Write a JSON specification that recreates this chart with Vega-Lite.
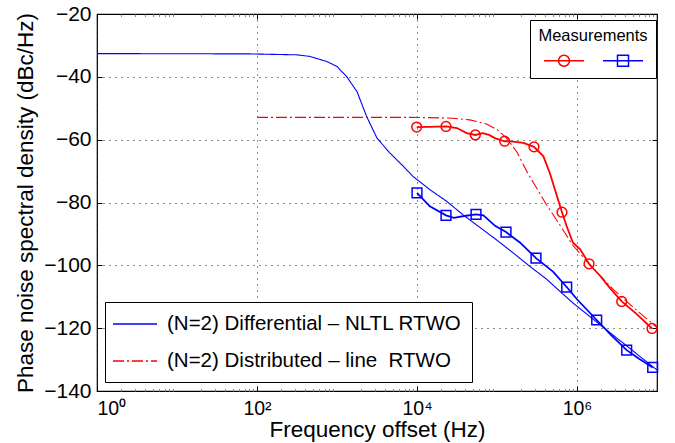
{
  "$schema": "https://vega.github.io/schema/vega-lite/v6.json",
  "width": 560,
  "height": 377,
  "autosize": {"type": "none"},
  "padding": {"left": 97, "top": 14, "right": 18, "bottom": 52},
  "background": "white",
  "config": {
    "view": {"stroke": "#000", "strokeWidth": 1.2},
    "font": "Liberation Sans",
    "axis": {"labelFont": "Liberation Sans", "titleFont": "Liberation Sans", "labelColor": "#000", "titleColor": "#000", "tickColor": "#000", "titleFontWeight": "normal"},
    "legend": {"labelFont": "Liberation Sans", "titleFont": "Liberation Sans", "labelColor": "#000", "titleColor": "#000"}
  },
  "datasets": {
    "model": [
      {"f": 1, "pn": -32.6, "series": "(N=2) Differential – NLTL RTWO"},
      {"f": 79.43, "pn": -32.7, "series": "(N=2) Differential – NLTL RTWO"},
      {"f": 316.2, "pn": -33.0, "series": "(N=2) Differential – NLTL RTWO"},
      {"f": 457.1, "pn": -33.5, "series": "(N=2) Differential – NLTL RTWO"},
      {"f": 741.3, "pn": -35.1, "series": "(N=2) Differential – NLTL RTWO"},
      {"f": 1000, "pn": -36.7, "series": "(N=2) Differential – NLTL RTWO"},
      {"f": 1318, "pn": -39.9, "series": "(N=2) Differential – NLTL RTWO"},
      {"f": 1778, "pn": -44.7, "series": "(N=2) Differential – NLTL RTWO"},
      {"f": 2344, "pn": -52.6, "series": "(N=2) Differential – NLTL RTWO"},
      {"f": 3162, "pn": -59.5, "series": "(N=2) Differential – NLTL RTWO"},
      {"f": 4571, "pn": -64.2, "series": "(N=2) Differential – NLTL RTWO"},
      {"f": 6761, "pn": -68.5, "series": "(N=2) Differential – NLTL RTWO"},
      {"f": 8913, "pn": -71.7, "series": "(N=2) Differential – NLTL RTWO"},
      {"f": 14454, "pn": -75.9, "series": "(N=2) Differential – NLTL RTWO"},
      {"f": 23442, "pn": -79.6, "series": "(N=2) Differential – NLTL RTWO"},
      {"f": 38019, "pn": -84.0, "series": "(N=2) Differential – NLTL RTWO"},
      {"f": 61660, "pn": -88.0, "series": "(N=2) Differential – NLTL RTWO"},
      {"f": 100000, "pn": -92.0, "series": "(N=2) Differential – NLTL RTWO"},
      {"f": 158489, "pn": -96.0, "series": "(N=2) Differential – NLTL RTWO"},
      {"f": 257040, "pn": -100.3, "series": "(N=2) Differential – NLTL RTWO"},
      {"f": 416869, "pn": -104.4, "series": "(N=2) Differential – NLTL RTWO"},
      {"f": 630957, "pn": -108.6, "series": "(N=2) Differential – NLTL RTWO"},
      {"f": 891251, "pn": -112.0, "series": "(N=2) Differential – NLTL RTWO"},
      {"f": 1584893, "pn": -117.1, "series": "(N=2) Differential – NLTL RTWO"},
      {"f": 2511886, "pn": -121.2, "series": "(N=2) Differential – NLTL RTWO"},
      {"f": 3981072, "pn": -125.2, "series": "(N=2) Differential – NLTL RTWO"},
      {"f": 6309573, "pn": -129.3, "series": "(N=2) Differential – NLTL RTWO"},
      {"f": 10000000, "pn": -133.3, "series": "(N=2) Differential – NLTL RTWO"},
      {"f": 100, "pn": -52.9, "series": "(N=2) Distributed – line \u00a0RTWO"},
      {"f": 7943, "pn": -52.9, "series": "(N=2) Distributed – line \u00a0RTWO"},
      {"f": 25119, "pn": -53.1, "series": "(N=2) Distributed – line \u00a0RTWO"},
      {"f": 45709, "pn": -53.7, "series": "(N=2) Distributed – line \u00a0RTWO"},
      {"f": 74131, "pn": -55.0, "series": "(N=2) Distributed – line \u00a0RTWO"},
      {"f": 100000, "pn": -56.8, "series": "(N=2) Distributed – line \u00a0RTWO"},
      {"f": 131826, "pn": -59.5, "series": "(N=2) Distributed – line \u00a0RTWO"},
      {"f": 177828, "pn": -64.0, "series": "(N=2) Distributed – line \u00a0RTWO"},
      {"f": 234423, "pn": -70.0, "series": "(N=2) Distributed – line \u00a0RTWO"},
      {"f": 281838, "pn": -73.5, "series": "(N=2) Distributed – line \u00a0RTWO"},
      {"f": 346737, "pn": -77.3, "series": "(N=2) Distributed – line \u00a0RTWO"},
      {"f": 416869, "pn": -80.8, "series": "(N=2) Distributed – line \u00a0RTWO"},
      {"f": 501187, "pn": -83.8, "series": "(N=2) Distributed – line \u00a0RTWO"},
      {"f": 616595, "pn": -87.3, "series": "(N=2) Distributed – line \u00a0RTWO"},
      {"f": 891251, "pn": -93.7, "series": "(N=2) Distributed – line \u00a0RTWO"},
      {"f": 1584893, "pn": -100.9, "series": "(N=2) Distributed – line \u00a0RTWO"},
      {"f": 2818383, "pn": -107.6, "series": "(N=2) Distributed – line \u00a0RTWO"},
      {"f": 5011872, "pn": -113.3, "series": "(N=2) Distributed – line \u00a0RTWO"},
      {"f": 10000000, "pn": -119.8, "series": "(N=2) Distributed – line \u00a0RTWO"}
    ],
    "meas": [
      {"f": 9908, "pn": -56.0, "dev": "red", "marker": true},
      {"f": 14125, "pn": -55.9, "dev": "red", "marker": false},
      {"f": 23041, "pn": -55.8, "dev": "red", "marker": true},
      {"f": 31623, "pn": -56.3, "dev": "red", "marker": false},
      {"f": 41687, "pn": -57.9, "dev": "red", "marker": false},
      {"f": 53580, "pn": -58.5, "dev": "red", "marker": true},
      {"f": 66069, "pn": -57.9, "dev": "red", "marker": false},
      {"f": 79433, "pn": -58.5, "dev": "red", "marker": false},
      {"f": 95499, "pn": -59.6, "dev": "red", "marker": false},
      {"f": 124738, "pn": -60.5, "dev": "red", "marker": true},
      {"f": 158489, "pn": -60.6, "dev": "red", "marker": false},
      {"f": 213796, "pn": -61.0, "dev": "red", "marker": false},
      {"f": 290068, "pn": -62.3, "dev": "red", "marker": true},
      {"f": 380189, "pn": -65.3, "dev": "red", "marker": false},
      {"f": 457088, "pn": -70.6, "dev": "red", "marker": false},
      {"f": 562341, "pn": -78.0, "dev": "red", "marker": false},
      {"f": 649382, "pn": -83.1, "dev": "red", "marker": true},
      {"f": 741310, "pn": -87.5, "dev": "red", "marker": false},
      {"f": 891251, "pn": -92.8, "dev": "red", "marker": false},
      {"f": 1096478, "pn": -94.9, "dev": "red", "marker": false},
      {"f": 1412538, "pn": -99.5, "dev": "red", "marker": true},
      {"f": 1949845, "pn": -103.4, "dev": "red", "marker": false},
      {"f": 2630268, "pn": -107.5, "dev": "red", "marker": false},
      {"f": 3622429, "pn": -111.5, "dev": "red", "marker": true},
      {"f": 5623413, "pn": -115.6, "dev": "red", "marker": false},
      {"f": 8659643, "pn": -120.1, "dev": "red", "marker": true},
      {"f": 10000, "pn": -76.9, "dev": "blue", "marker": true},
      {"f": 14454, "pn": -81.2, "dev": "blue", "marker": false},
      {"f": 23041, "pn": -84.1, "dev": "blue", "marker": true},
      {"f": 28840, "pn": -84.9, "dev": "blue", "marker": false},
      {"f": 38905, "pn": -84.3, "dev": "blue", "marker": false},
      {"f": 54639, "pn": -83.8, "dev": "blue", "marker": true},
      {"f": 67608, "pn": -84.1, "dev": "blue", "marker": false},
      {"f": 95499, "pn": -87.5, "dev": "blue", "marker": false},
      {"f": 129604, "pn": -89.4, "dev": "blue", "marker": true},
      {"f": 194984, "pn": -92.8, "dev": "blue", "marker": false},
      {"f": 307256, "pn": -97.7, "dev": "blue", "marker": true},
      {"f": 501187, "pn": -102.0, "dev": "blue", "marker": false},
      {"f": 743019, "pn": -106.9, "dev": "blue", "marker": true},
      {"f": 1000000, "pn": -110.8, "dev": "blue", "marker": false},
      {"f": 1761976, "pn": -117.4, "dev": "blue", "marker": true},
      {"f": 2691535, "pn": -122.3, "dev": "blue", "marker": false},
      {"f": 4178303, "pn": -127.0, "dev": "blue", "marker": true},
      {"f": 6025596, "pn": -129.8, "dev": "blue", "marker": false},
      {"f": 8830799, "pn": -132.5, "dev": "blue", "marker": true}
    ]
  },
  "resolve": {"axis": {"x": "independent", "y": "independent"}},
  "layer": [
    {
      "data": {"name": "model"},
      "mark": {"type": "line", "strokeWidth": 1.1, "clip": true},
      "encoding": {
        "x": {"field": "f", "type": "quantitative",
          "scale": {"type": "log", "domain": [1, 10000000], "nice": false},
          "axis": {"orient": "bottom", "values": [1, 100, 10000, 1000000],
            "labelExpr": "datum.value < 10 ? '10⁰' : datum.value < 1000 ? '10²' : datum.value < 100000 ? '10⁴' : '10⁶'",
            "grid": true, "gridDash": [1, 5], "gridColor": "#000", "gridWidth": 0.9,
            "tickSize": -5, "domain": false, "labelFontSize": 19.5, "labelPadding": 13, "labelBaseline": "top",
            "title": "Frequency offset (Hz)", "titleFontSize": 22.5, "titlePadding": 1}},
        "y": {"field": "pn", "type": "quantitative",
          "scale": {"domain": [-140, -20], "nice": false},
          "axis": {"orient": "left", "values": [-140, -120, -100, -80, -60, -40, -20],
            "grid": true, "gridDash": [1, 5], "gridColor": "#000", "gridWidth": 0.9,
            "tickSize": -5, "domain": false, "labelFontSize": 21, "labelPadding": 11,
            "title": "Phase noise spectral density (dBc/Hz)", "titleFontSize": 22.5, "titlePadding": 6}},
        "color": {"field": "series", "type": "nominal",
          "scale": {"domain": ["(N=2) Differential – NLTL RTWO", "(N=2) Distributed – line \u00a0RTWO"], "range": ["#0000ff", "#ff0000"]},
          "legend": {"orient": "none", "legendX": 8, "legendY": 288, "title": null, "symbolType": "M-2,0L2,0", "symbolSize": 484, "symbolOffset": 8, "symbolStrokeWidth": 1.3,
            "labelFontSize": 20.5, "labelOffset": 20, "strokeColor": "#000", "fillColor": "#fff", "padding": 10, "rowPadding": 14, "labelLimit": 400}},
        "strokeDash": {"field": "series", "type": "nominal",
          "scale": {"domain": ["(N=2) Differential – NLTL RTWO", "(N=2) Distributed – line \u00a0RTWO"], "range": [[1, 0], [11, 3, 2, 3]]},
          "legend": {"orient": "none", "legendX": 8, "legendY": 288, "title": null, "symbolType": "M-2,0L2,0", "symbolSize": 484, "symbolOffset": 8, "symbolStrokeWidth": 1.3,
            "labelFontSize": 20.5, "labelOffset": 20, "strokeColor": "#000", "fillColor": "#fff", "padding": 10, "rowPadding": 14, "labelLimit": 400}}
      }
    },
    {
      "data": {"name": "meas"},
      "transform": [{"filter": "datum.dev == 'red'"}],
      "mark": {"type": "line", "strokeWidth": 1.8, "color": "#ff0000"},
      "encoding": {
        "x": {"field": "f", "type": "quantitative",
          "axis": {"orient": "top", "values": [1, 100, 10000, 1000000], "labels": false, "grid": false, "tickSize": -5, "domain": false, "title": null}},
        "y": {"field": "pn", "type": "quantitative",
          "axis": {"orient": "right", "values": [-140, -120, -100, -80, -60, -40, -20], "labels": false, "grid": false, "tickSize": -5, "domain": false, "title": null}}
      }
    },
    {
      "data": {"name": "meas"},
      "transform": [{"filter": "datum.dev == 'blue'"}],
      "mark": {"type": "line", "strokeWidth": 1.8, "color": "#0000ff"},
      "encoding": {
        "x": {"field": "f", "type": "quantitative",
          "axis": {"orient": "bottom", "values": [2,3,4,5,6,7,8,9,20,30,40,50,60,70,80,90,200,300,400,500,600,700,800,900,2000,3000,4000,5000,6000,7000,8000,9000,20000,30000,40000,50000,60000,70000,80000,90000,200000,300000,400000,500000,600000,700000,800000,900000,2000000,3000000,4000000,5000000,6000000,7000000,8000000,9000000],
            "labels": false, "grid": false, "tickSize": -2.5, "tickColor": "#888", "domain": false, "title": null}},
        "y": {"field": "pn", "type": "quantitative", "axis": null}
      }
    },
    {
      "data": {"name": "meas"},
      "transform": [{"filter": "datum.dev == 'red' && datum.marker"}],
      "mark": {"type": "point", "shape": "circle", "filled": false, "size": 95, "strokeWidth": 1.5, "color": "#ff0000", "opacity": 1},
      "encoding": {
        "x": {"field": "f", "type": "quantitative",
          "axis": {"orient": "top", "values": [2,3,4,5,6,7,8,9,20,30,40,50,60,70,80,90,200,300,400,500,600,700,800,900,2000,3000,4000,5000,6000,7000,8000,9000,20000,30000,40000,50000,60000,70000,80000,90000,200000,300000,400000,500000,600000,700000,800000,900000,2000000,3000000,4000000,5000000,6000000,7000000,8000000,9000000],
            "labels": false, "grid": false, "tickSize": -2.5, "tickColor": "#888", "domain": false, "title": null}},
        "y": {"field": "pn", "type": "quantitative", "axis": null}
      }
    },
    {
      "data": {"name": "meas"},
      "transform": [{"filter": "datum.dev == 'blue' && datum.marker"}],
      "mark": {"type": "point", "shape": "square", "filled": false, "size": 95, "strokeWidth": 1.5, "color": "#0000ff", "opacity": 1},
      "encoding": {
        "x": {"field": "f", "type": "quantitative", "axis": null},
        "y": {"field": "pn", "type": "quantitative", "axis": null}
      }
    },
    {
      "data": {"name": "meas"},
      "transform": [{"filter": "datum.f < 0"}],
      "mark": {"type": "point", "filled": false, "strokeWidth": 1.5, "opacity": 1},
      "encoding": {
        "shape": {"field": "dev", "type": "nominal",
          "scale": {"domain": ["red", "blue"], "range": ["M-1,0L1,0M-0.275,0A0.275,0.275,0,1,1,0.275,0A0.275,0.275,0,1,1,-0.275,0Z", "M-1,0L1,0M-0.275,-0.275L0.275,-0.275L0.275,0.275L-0.275,0.275Z"]},
          "legend": {"orient": "none", "legendX": 433, "legendY": 6, "direction": "horizontal", "title": "Measurements", "titleFontSize": 16.5, "titleFontWeight": "normal", "titleAnchor": "middle", "titlePadding": -5,
            "labelExpr": "''", "labelOffset": 0, "symbolSize": 1600, "symbolOffset": 4, "symbolStrokeWidth": 1.5, "symbolFillColor": "transparent", "columnPadding": 11, "strokeColor": "#000", "fillColor": "#fff", "padding": 8, "symbolOpacity": 1}},
        "stroke": {"field": "dev", "type": "nominal",
          "scale": {"domain": ["red", "blue"], "range": ["#ff0000", "#0000ff"]},
          "legend": {"orient": "none", "legendX": 433, "legendY": 6, "direction": "horizontal", "title": "Measurements", "titleFontSize": 16.5, "titleFontWeight": "normal", "titleAnchor": "middle", "titlePadding": -5,
            "labelExpr": "''", "labelOffset": 0, "symbolSize": 1600, "symbolOffset": 4, "symbolStrokeWidth": 1.5, "symbolFillColor": "transparent", "columnPadding": 11, "strokeColor": "#000", "fillColor": "#fff", "padding": 8, "symbolOpacity": 1}}
      }
    }
  ]
}
